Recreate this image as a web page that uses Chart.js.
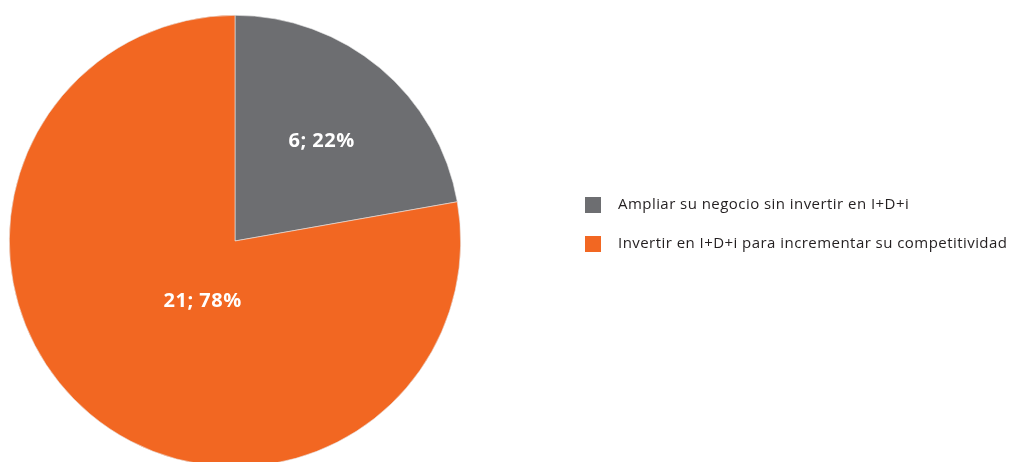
<!DOCTYPE html>
<html>
<head>
<meta charset="utf-8">
<script src="https://cdn.jsdelivr.net/npm/chart.js@4.4.1/dist/chart.umd.min.js"></script>
<style>
html,body{margin:0;padding:0;background:#fff;overflow:hidden;}
#wrap{position:relative;width:1014px;height:480px;}
</style>
</head>
<body>
<div id="wrap"><canvas id="c"></canvas></div>
<script>
const categories = ["Ampliar su negocio sin invertir en I+D+i", "Invertir en I+D+i para incrementar su competitividad"];
const values = [6, 21];
const percentLabels = ["22%", "78%"];
const colors = ["#6D6E71", "#F26722"];

const sliceLabels = {
  id: 'sliceLabels',
  afterDatasetsDraw(chart) {
    const ctx = chart.ctx;
    const meta = chart.getDatasetMeta(0);
    const place = [{f:0.59, da:0.01}, {f:0.30, da:-0.20}];
    ctx.save();
    ctx.fillStyle = '#ffffff';
    ctx.font = 'bold 20px "Open Sans"';
    ctx.letterSpacing = '0.5px';
    ctx.textAlign = 'center';
    ctx.textBaseline = 'middle';
    meta.data.forEach((arc, i) => {
      const p = arc.getProps(['x','y','startAngle','endAngle','outerRadius'], true);
      const mid = (p.startAngle + p.endAngle) / 2 + place[i].da;
      const r = p.outerRadius * place[i].f;
      ctx.fillText(values[i] + '; ' + percentLabels[i], p.x + Math.cos(mid) * r, p.y + Math.sin(mid) * r + 1);
    });
    ctx.restore();
  }
};

const sideLegend = {
  id: 'sideLegend',
  afterDraw(chart) {
    const ctx = chart.ctx;
    ctx.save();
    ctx.font = '15px "Open Sans"';
    ctx.letterSpacing = '0.45px';
    ctx.textBaseline = 'middle';
    ctx.textAlign = 'left';
    categories.forEach((c, i) => {
      const y = 205 + i * 39;
      ctx.fillStyle = colors[i];
      ctx.fillRect(585, y - 8, 16, 16);
      ctx.fillStyle = '#231F20';
      ctx.fillText(c, 618, y);
    });
    ctx.restore();
  }
};

new Chart(document.getElementById('c'), {
  type: 'pie',
  data: {
    labels: categories,
    datasets: [{
      data: values,
      backgroundColor: colors,
      borderColor: '#e8e8e8',
      borderWidth: 0.6
    }]
  },
  options: {
    responsive: true,
    maintainAspectRatio: false,
    animation: false,
    layout: { padding: { left: 9, top: 15, right: 553, bottom: 13 } },
    plugins: { legend: { display: false }, tooltip: { enabled: false } }
  },
  plugins: [sliceLabels, sideLegend]
});
</script>
</body>
</html>
